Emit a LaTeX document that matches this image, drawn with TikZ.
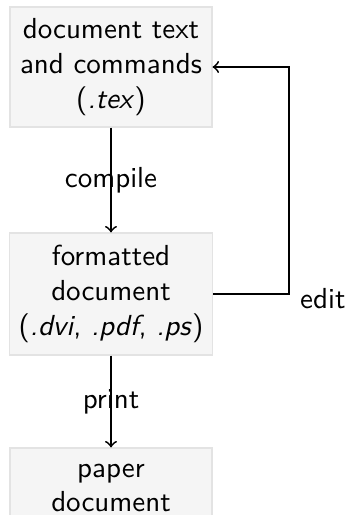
\documentclass[tikz,border=0pt]{standalone}
\usetikzlibrary{positioning}
\renewcommand{\familydefault}{\sfdefault}
\begin{document}
\begin{tikzpicture}[x=0.345pt,y=-0.345pt,
  box/.style={draw=gray!22, fill=gray!8, line width=0.4pt,
              minimum width=202*0.345pt, align=center, inner sep=3.3pt},
  flow/.style={->, semithick}]
\useasboundingbox (0,0) rectangle (346,515);
  \node[box, minimum height=120*0.345pt] (source) at (111,67)
    {document text\\and commands\\(\textit{.tex})};
  \node[box, minimum height=122*0.345pt] (output) at (111,294)
    {formatted\\document\\(\textit{.dvi}, \textit{.pdf}, \textit{.ps})};
  \node[box, minimum height=80*0.345pt] (paper) at (111,488)
    {paper\\document};

  \draw[flow] (source) -- node {compile} (output);
  \draw[flow] (output) -- node {print} (paper);
  \coordinate (corner) at (289,294);
  \draw[flow] (output.east) -- (corner) |- (source.east);
  \node[anchor=west] (edit) at (290,299) {edit};
\end{tikzpicture}
\end{document}
